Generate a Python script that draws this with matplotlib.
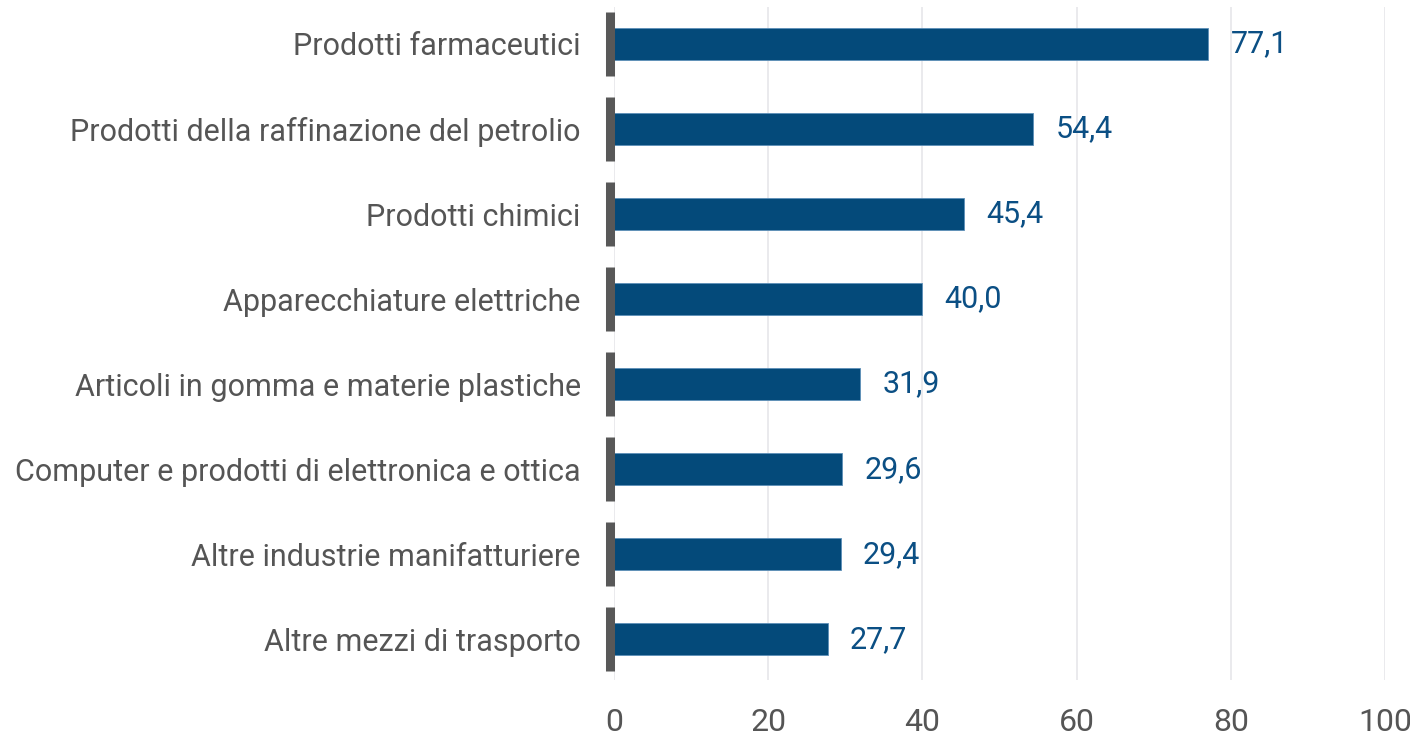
import matplotlib
matplotlib.use("Agg")
import matplotlib.pyplot as plt
import matplotlib.transforms as mtransforms

categories = [
    "Prodotti farmaceutici",
    "Prodotti della raffinazione del petrolio",
    "Prodotti chimici",
    "Apparecchiature elettriche",
    "Articoli in gomma e materie plastiche",
    "Computer e prodotti di elettronica e ottica",
    "Altre industrie manifatturiere",
    "Altre mezzi di trasporto",
]
values = [77.1, 54.4, 45.4, 40.0, 31.9, 29.6, 29.4, 27.7]
value_labels = ["77,1", "54,4", "45,4", "40,0", "31,9", "29,6", "29,4", "27,7"]
xticks = [0, 20, 40, 60, 80, 100]

plt.rcParams['font.family'] = ['Roboto', 'DejaVu Sans']

fig = plt.figure(figsize=(14.1, 7.4), dpi=100)
ax = fig.add_axes([614/1410, 60/740, (1385-614)/1410, (680-7)/740])

n = len(categories)
ypos = list(range(n - 1, -1, -1))

bar_color = "#044a7a"
ax.barh(ypos, values, height=0.376, color=bar_color, edgecolor="#5d8fb8",
        linewidth=0.6, zorder=2)

# dark axis segments per category
seg_tr = mtransforms.offset_copy(ax.transData, fig=fig, x=-4.5, y=0, units='dots')
for y in ypos:
    ax.plot([0, 0], [y - 0.375, y + 0.375], color="#585858", linewidth=6.5,
            solid_capstyle="butt", transform=seg_tr, zorder=3, clip_on=False)

for y, v, lab in zip(ypos, values, value_labels):
    ax.annotate(lab, xy=(v, y), xytext=(16, 0), textcoords="offset points",
                ha="left", va="center", fontsize=22, color="#0b4f84")

ax.set_xlim(0, 100)
ax.set_ylim(-0.48, n - 1 + 0.435)
ax.set_xticks(xticks)
ax.set_xticklabels([str(t) for t in xticks])
ax.set_yticks(ypos)
ax.set_yticklabels(categories)

ax.tick_params(axis="x", length=0, pad=20, labelsize=23, labelcolor="#555555")
ax.tick_params(axis="y", length=0, pad=24, labelsize=22, labelcolor="#555555")

ax.grid(axis="x", color="#e6e6ea", linewidth=1.2, zorder=0)
ax.set_axisbelow(True)
for s in ax.spines.values():
    s.set_visible(False)

fig.savefig("out.png", dpi=100, facecolor="white")
